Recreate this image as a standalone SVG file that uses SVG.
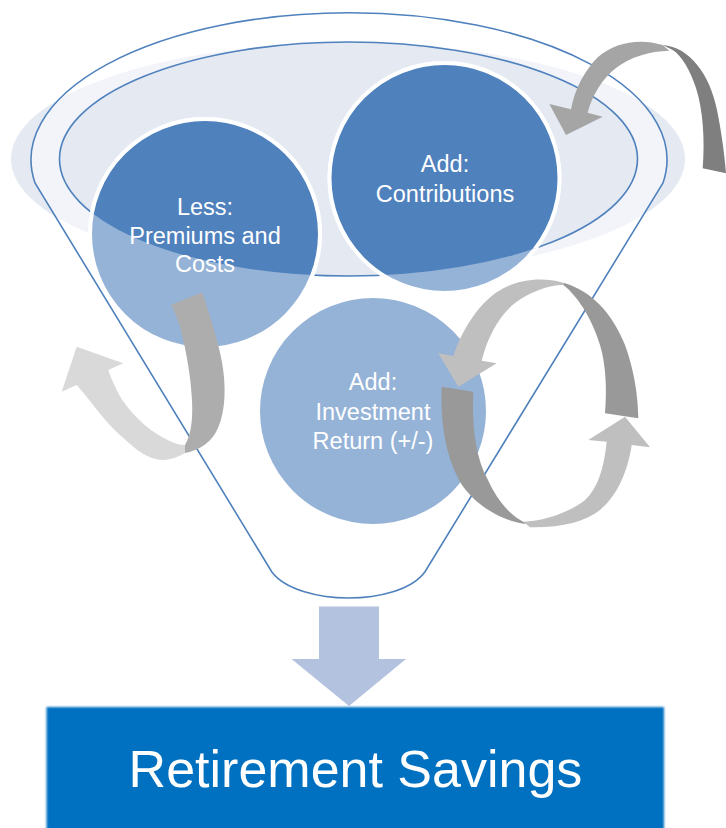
<svg xmlns="http://www.w3.org/2000/svg" width="726" height="828" viewBox="0 0 726 828">
  <defs>
    <style>
      .lbl{font-family:"Liberation Sans",Arial,sans-serif;font-size:23.5px;fill:#ffffff;text-anchor:middle}
      .big{font-family:"Liberation Sans",Arial,sans-serif;font-size:52px;fill:#ffffff;text-anchor:middle}
      .edge{fill:none;stroke:#4F81BD;stroke-width:1.6}
      .disc{stroke:#ffffff;stroke-width:4}
      .light{fill:#95B3D7}
      .dark{fill:#4F81BD}
    </style>
    <clipPath id="mouth">
      <ellipse cx="348.5" cy="159" rx="289" ry="117"/>
    </clipPath>
    <filter id="soft" x="-2%" y="-2%" width="104%" height="104%">
      <feGaussianBlur stdDeviation="0.8"/>
    </filter>
  </defs>

  <!-- funnel body -->
  <g id="funnel">
    <ellipse cx="348" cy="159" rx="337" ry="116" fill="#E4E9F2"/>
    <path d="M35,183 A318,147 0 1 1 663,183 L425,571.7 C412,590 378,598 348.5,598 C320,598 285,590 271.7,571.7 Z" fill="#ffffff" fill-opacity="0.5"/>
    <ellipse cx="348.5" cy="159" rx="289" ry="117" fill="#E4E9F2"/>
    <ellipse class="edge" cx="348.5" cy="159" rx="289" ry="117"/>
    <path class="edge" d="M35,183 A318,147 0 1 1 663,183 L425,571.7 C412,590 378,598 348.5,598 C320,598 285,590 271.7,571.7 Z"/>
  </g>

  <!-- items poured into the funnel -->
  <g id="less-premiums">
    <circle class="disc light" cx="205" cy="234" r="115"/>
    <circle class="disc dark" cx="205" cy="234" r="115" clip-path="url(#mouth)"/>
  </g>
  <g id="add-contributions">
    <circle class="disc light" cx="444.5" cy="178" r="115"/>
    <circle class="disc dark" cx="444.5" cy="178" r="115" clip-path="url(#mouth)"/>
  </g>
  <g id="add-investment">
    <circle class="disc light" cx="373" cy="411" r="115"/>
  </g>

  <!-- curved flow arrows -->
  <g id="connectors">
    <!-- contributions flowing in -->
    <g id="arrow-in">
      <path fill="#7F7F7F" d="M662.7,45 C690,47 710,75 717,110 C721,130 724,150 726,173.3 L702.7,168.3 C705,140 703,110 696,88 C690,70 682,56 672.7,50 Z"/>
      <path fill="#A5A5A5" d="M662.7,45 C640,38 615,42 598,57 C585,70 575,88 571,109.3 L549.3,104 L566,135 L602.7,116.7 L587.7,112.7 C592,95 603,78 616,68 C630,57 650,51 669.3,50.7 Z"/>
    </g>
    <!-- premiums and costs flowing out -->
    <g id="arrow-out">
      <path fill="#D9D9D9" d="M185,453 C178,457 168,461.5 156.7,459.3 C144,457 132,446 120,435 C105,422 91,401 76.7,385 L61.7,391.7 L76.7,346.7 L123.3,363.3 L108.3,370 C110,376 113,382 116.7,390 C122,402 135,417 146.7,426.7 C160,437 175,445 185,445 Z"/>
      <path fill="#ADADAD" d="M171,305 L202.3,292.3 C208,310 218,340 222,362 C226,385 226,410 218,428 C212,442 200,450 185,453 L185,445 C191,435 193,420 192,400 C191,375 185,345 180,326.7 C177,317 174,310 171,305 Z"/>
    </g>
    <!-- investment return cycle -->
    <g id="arrow-cycle">
      <path fill="#999999" d="M441.7,386.7 L473.3,391.7 C472,420 474,455 488,480 C497,500 510,515 523.3,521.7 L526.7,524 C505,522 478,508 462,485 C448,462 440,430 441.7,386.7 Z"/>
      <path fill="#BFBFBF" d="M523.3,521.7 C545,521 570,512 585,500 C598,488 604,468 606.7,441.7 L588.3,440 L625,416.7 L650,447.3 L631.7,445 C628,470 618,495 600,510 C585,522 560,528 530,527.3 Z"/>
      <path fill="#999999" d="M563.3,282.7 C590,290 612,312 625,345 C634,370 638,395 638.3,418.3 L605,413.3 C607,390 606,365 600,345 C593,322 580,298 563.3,285 Z"/>
      <path fill="#BFBFBF" d="M563.3,282.7 C540,276 515,280 497,292 C478,305 462,330 453.3,356 L438.3,353.3 L458.3,386.7 L496.7,363.3 L481.7,360.7 C488,335 500,315 515,303 C530,292 548,285 563.3,285 Z"/>
    </g>
    <!-- output into savings -->
    <path id="arrow-down" fill="#B3C2DE" d="M319,606.5 L379,606.5 L379,659 L406,659 L349,706 L291.5,659 L319,659 Z"/>
  </g>

  <!-- labels -->
  <g id="labels">
    <text class="lbl" x="205" y="215">Less:</text>
    <text class="lbl" x="205" y="243.5">Premiums and</text>
    <text class="lbl" x="205" y="272">Costs</text>
    <text class="lbl" x="445" y="171.7">Add:</text>
    <text class="lbl" x="445" y="201.7">Contributions</text>
    <text class="lbl" x="373" y="390">Add:</text>
    <text class="lbl" x="373" y="419.5">Investment</text>
    <text class="lbl" x="373" y="449">Return (+/-)</text>
  </g>

  <!-- result -->
  <g id="retirement-savings">
    <rect x="46.5" y="707" width="617.5" height="130" fill="#0070C0" filter="url(#soft)"/>
    <text class="big" x="355.5" y="786.7">Retirement Savings</text>
  </g>
</svg>
